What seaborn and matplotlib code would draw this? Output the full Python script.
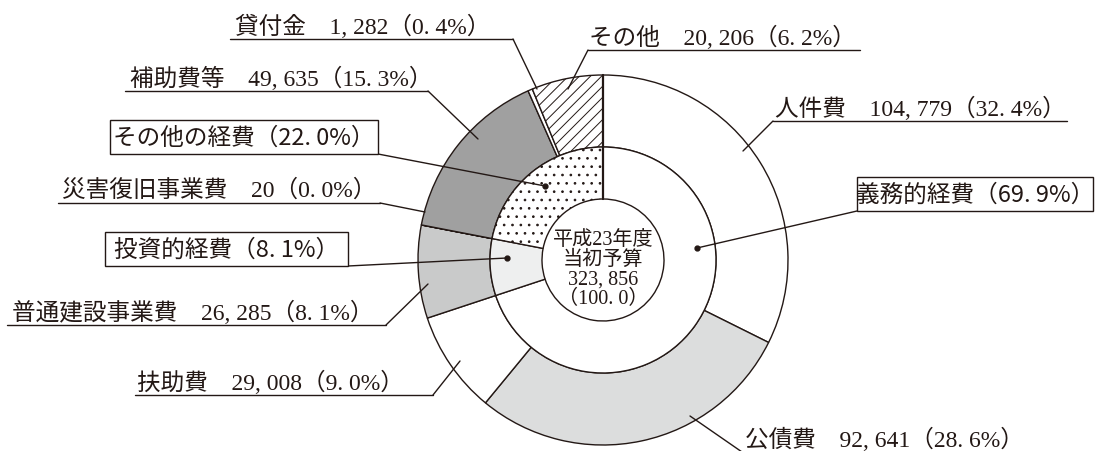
import matplotlib
matplotlib.use('Agg')
import matplotlib.pyplot as plt
from matplotlib.patches import Rectangle
import seaborn as sns

# budget breakdown (outer ring, clockwise from 12 o'clock)
outer_labels = ['人件費', '公債費', '扶助費', '普通建設事業費', '災害復旧事業費', '補助費等', '貸付金', 'その他']
outer_values = [104779, 92641, 29008, 26285, 20, 49635, 1282, 20206]
outer_pcts = [32.4, 28.6, 9.0, 8.1, 0.0, 15.3, 0.4, 6.2]

# grouped totals (inner ring)
inner_labels = ['義務的経費', '投資的経費', 'その他の経費']
inner_values = [226428, 26305, 71123]
inner_pcts = [69.9, 8.1, 22.0]

total_value = 323856
center_title = ['平成23年度', '当初予算']

sns.set_theme(style='white')
plt.rcParams['font.family'] = ['Noto Sans CJK JP', 'DejaVu Sans']
plt.rcParams['hatch.linewidth'] = 0.7

INK = '#231815'
W, H = 1096, 452
CX, CY = 603, 261
R_OUT, R_MID, R_IN = 185, 113, 61
MINCHO = ['Liberation Serif', 'Noto Sans CJK JP']


def fy(py):
    # pixel row (from top) -> data y
    return H - py


def num(v):
    # printed style: half-width digits with a gap after separators
    return f'{v:,}'.replace(',', ', ')


def pc(p):
    return f'{p:.1f}'.replace('.', '. ')


fig = plt.figure(figsize=(W / 100, H / 100), dpi=100)
ax = fig.add_axes([0, 0, 1, 1])

outer_colors = ['white', '#dcdddd', 'white', '#c9caca', '#c9caca', '#a0a0a0', 'white', 'white']
inner_colors = ['white', '#eeefef', 'white']
wp = dict(edgecolor=INK, linewidth=1.0)

outer_w, _ = ax.pie(outer_values, radius=R_OUT, center=(CX, fy(CY)), startangle=90,
                    counterclock=False, colors=outer_colors,
                    wedgeprops=dict(width=R_OUT - R_MID, **wp))
inner_w, _ = ax.pie(inner_values, radius=R_MID, center=(CX, fy(CY)), startangle=90,
                    counterclock=False, colors=inner_colors,
                    wedgeprops=dict(width=R_MID - R_IN, **wp))
outer_w[outer_labels.index('その他')].set_hatch('///')
inner_w[inner_labels.index('その他の経費')].set_hatch('..')

# slightly heavier seam at 12 o'clock
ax.plot([CX, CX], [fy(CY - R_IN), fy(CY - R_OUT)], color=INK, lw=1.6)

ax.set_xlim(0, W)
ax.set_ylim(0, H)
ax.set_aspect('equal')
ax.axis('off')

# underlined labels: text x, underline y, underline x0, x1, which end joins leader, leader tip
outer_layout = {
    '人件費':       (775, 122, 773, 1067, 'left', (743, 152)),
    '公債費':       (745, 453, 742, 1072, 'left', (690, 417)),
    '扶助費':       (137, 396, 135, 433, 'right', (460, 362)),
    '普通建設事業費': (12, 326, 7, 386, 'right', (428, 285)),
    '災害復旧事業費': (62, 204, 58, 380, 'right', (425, 213)),
    '補助費等':     (130, 92, 125, 428, 'right', (478, 140)),
    '貸付金':       (235, 40, 230, 513, 'right', (537, 90)),
    'その他':       (589, 51, 588, 860, 'left', (568, 90)),
}

for name, val, pct in zip(outer_labels, outer_values, outer_pcts):
    tx, uy, x0, x1, side, tip = outer_layout[name]
    label = f'{name}\u3000{num(val)}（{pc(pct)}%）'
    ax.text(tx, fy(uy - 13.5), label, ha='left', va='center', fontsize=17,
            color=INK, family=MINCHO)
    ax.plot([x0, x1], [fy(uy), fy(uy)], color=INK, lw=1.0)
    jx = x0 if side == 'left' else x1
    ax.plot([jx, tip[0]], [fy(uy), fy(tip[1])], color=INK, lw=1.0)

# boxed group labels: box x0, y0, x1, y1, leader start corner, dot position
inner_layout = {
    '義務的経費':   (857, 178, 1093, 212, (857, 212), (697, 249)),
    '投資的経費':   (105, 233, 348, 267, (348, 267), (507, 259)),
    'その他の経費': (110, 121, 378, 155, (378, 155), (545, 187)),
}

for name, pct in zip(inner_labels, inner_pcts):
    x0, y0, x1, y1, start, dot = inner_layout[name]
    ax.add_patch(Rectangle((x0, fy(y1)), x1 - x0, y1 - y0, facecolor='white',
                           edgecolor=INK, linewidth=1.0, zorder=3))
    ax.text((x0 + x1) / 2, fy((y0 + y1) / 2), f'{name}（{pc(pct)}%）', ha='center',
            va='center', fontsize=17, color=INK, zorder=4)
    ax.plot([start[0], dot[0]], [fy(start[1]), fy(dot[1])], color=INK, lw=1.0)
    ax.plot(dot[0], fy(dot[1]), 'o', color=INK, markersize=3.5)

center_text = '\n'.join(center_title + [num(total_value), f'（{pc(100.0)}）'])
ax.text(CX, fy(270), center_text, ha='center', va='center', fontsize=14.5,
        linespacing=1.05, color=INK, family=MINCHO)

fig.savefig('out.png', dpi=100, facecolor='white')
